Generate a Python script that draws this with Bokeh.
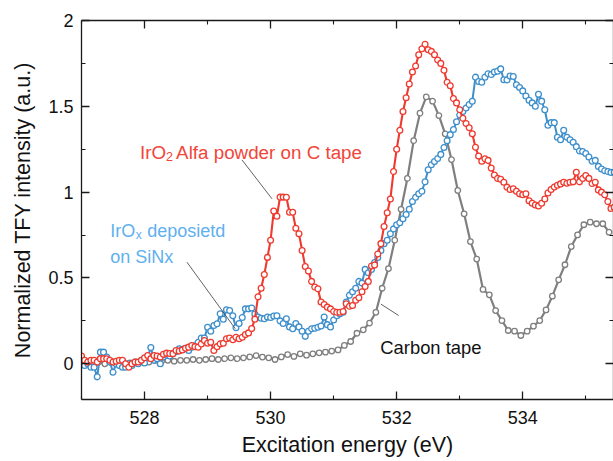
import numpy as np
from bokeh.plotting import figure
from bokeh.models import (Range1d, LinearAxis, FixedTicker, NumeralTickFormatter,
                          Label, ColumnDataSource)
from bokeh.embed import file_html
from bokeh.resources import INLINE

# ---------------- data ----------------
# IrO2 Alfa powder on C tape (red), sampled every 0.05 eV from 527.00 eV
red_start, red_step = 527.00, 0.05
red_tfy = [
    0.045, 0.02, 0.01, 0.02, 0.02, 0.01, 0.03, 0.03, 0.029, 0.02,
    0.01, 0.015, 0.02, 0.02, 0.0, -0.02, 0.0, 0.01, 0.01, 0.02,
    0.035, 0.048, 0.03, 0.048, 0.045, 0.04, 0.055, 0.062, 0.06, 0.058,
    0.077, 0.075, 0.081, 0.09, 0.097, 0.107, 0.1, 0.097, 0.116, 0.136,
    0.12, 0.126, 0.077, 0.1, 0.116, 0.12, 0.146, 0.15, 0.14, 0.155,
    0.146, 0.155, 0.17, 0.18, 0.205, 0.26, 0.39, 0.44, 0.52, 0.62,
    0.72, 0.89, 0.86, 0.971, 0.971, 0.97, 0.883, 0.883, 0.79, 0.757,
    0.66, 0.567, 0.54, 0.48, 0.447, 0.437, 0.36, 0.345, 0.33, 0.32,
    0.305, 0.30, 0.30, 0.305, 0.35, 0.335, 0.34, 0.37, 0.385, 0.42,
    0.45, 0.48, 0.57, 0.575, 0.64, 0.70, 0.80, 0.88, 0.96, 1.12,
    1.25, 1.36, 1.47, 1.55, 1.63, 1.70, 1.735, 1.80, 1.835, 1.862,
    1.83, 1.82, 1.80, 1.77, 1.75, 1.71, 1.64, 1.62, 1.545, 1.52,
    1.48, 1.43, 1.40, 1.375, 1.34, 1.262, 1.21, 1.18, 1.194, 1.185,
    1.14, 1.10, 1.08, 1.075, 1.058, 1.029, 1.015, 1.02, 1.005, 0.99,
    0.985, 0.99, 0.95, 0.935, 0.925, 0.92, 0.935, 0.96, 0.995, 1.015,
    1.03, 1.04, 1.048, 1.058, 1.052, 1.058, 1.06, 1.116, 1.06, 1.08,
    1.097, 1.08, 1.05, 1.058, 1.013, 1.0, 0.985, 0.945, 0.905, 0.912,
]

# IrOx deposited on SiNx (blue), sampled every 0.05 eV from 527.00 eV
blue_start, blue_step = 527.00, 0.05
blue_tfy = [
    0.02, -0.01, 0.0, -0.02, -0.02, -0.076, 0.068, 0.068, 0.039, 0.01,
    -0.049, 0.0, -0.01, -0.02, -0.02, 0.0, -0.01, 0.01, 0.0, 0.02,
    0.005, 0.039, 0.095, 0.02, 0.03, 0.0, 0.04, 0.05, 0.045, 0.06,
    0.07, 0.087, 0.085, 0.09, 0.077, 0.097, 0.105, 0.125, 0.15, 0.15,
    0.213, 0.19, 0.223, 0.233, 0.291, 0.26, 0.315, 0.31, 0.28, 0.21,
    0.235, 0.27, 0.32, 0.32, 0.325, 0.29, 0.272, 0.265, 0.262, 0.272,
    0.27, 0.278, 0.28, 0.25, 0.235, 0.262, 0.215, 0.204, 0.235, 0.215,
    0.19, 0.16, 0.19, 0.204, 0.207, 0.213, 0.22, 0.272, 0.228, 0.215,
    0.255, 0.28, 0.291, 0.30, 0.36, 0.40, 0.42, 0.44, 0.48, 0.47,
    0.55, 0.53, 0.55, 0.59, 0.62, 0.66, 0.70, 0.72, 0.757, 0.786,
    0.81, 0.822, 0.845, 0.87, 0.90, 0.945, 0.97, 0.99, 1.005, 1.06,
    1.13, 1.16, 1.178, 1.196, 1.22, 1.26, 1.30, 1.335, 1.365, 1.41,
    1.45, 1.47, 1.49, 1.51, 1.53, 1.67, 1.645, 1.64, 1.67, 1.69,
    1.685, 1.70, 1.705, 1.718, 1.655, 1.654, 1.676, 1.674, 1.625, 1.61,
    1.59, 1.56, 1.535, 1.52, 1.50, 1.57, 1.53, 1.48, 1.39, 1.405,
    1.405, 1.32, 1.305, 1.36, 1.32, 1.305, 1.29, 1.265, 1.24, 1.237,
    1.225, 1.205, 1.18, 1.185, 1.15, 1.135, 1.125, 1.12, 1.115, 1.116,
]

# Carbon tape (gray), sampled every 0.1 eV from 526.97 eV
gray_start, gray_step = 526.97, 0.10
gray_tfy = [
    0.0, 0.01, 0.005, 0.01, 0.0, 0.01, 0.005, 0.01, 0.005, 0.01,
    0.015, 0.01, 0.02, 0.015, 0.02, 0.015, 0.02, 0.02, 0.025, 0.02,
    0.025, 0.03, 0.025, 0.03, 0.035, 0.03, 0.035, 0.04, 0.048, 0.039,
    0.035, 0.025, 0.04, 0.054, 0.043, 0.058, 0.05, 0.058, 0.064, 0.068,
    0.074, 0.081, 0.107, 0.13, 0.178, 0.198, 0.237, 0.30, 0.44, 0.555,
    0.72, 0.90, 1.08, 1.30, 1.46, 1.555, 1.53, 1.446, 1.34, 1.19,
    1.01, 0.874, 0.712, 0.61, 0.433, 0.402, 0.31, 0.252, 0.194, 0.19,
    0.165, 0.19, 0.219, 0.252, 0.314, 0.394, 0.489, 0.577, 0.683, 0.751,
    0.81, 0.825, 0.816, 0.816, 0.767,
]

x_major_ticks = [528, 530, 532, 534]
x_minor_ticks = [527, 529, 531, 533, 535]
y_major_ticks = [0, 0.5, 1, 1.5, 2]
y_minor_ticks = [0.25, 0.75, 1.25, 1.75]

x_label = "Excitation energy (eV)"
y_label = "Normalized TFY intensity (a.u.)"

# annotation anchors (data coordinates)
red_note = dict(x=527.93, y=1.233)
blue_note = dict(x=527.455, y1=0.776, y2=0.621)
carbon_note = dict(x=531.74, y=0.097)
leader_x0 = [529.546, 528.673, 531.749]
leader_y0 = [1.188, 0.592, 0.348]
leader_x1 = [530.022, 529.440, 532.032]
leader_y1 = [0.961, 0.204, 0.281]

# ---------------- styling ----------------
RED = "#ee3a2f"
BLUE = "#3d8fcc"
GRAY = "#7f7f7f"
RED_TXT = "#f2453a"
BLUE_TXT = "#5fb0ef"
FONT = "Liberation Sans"

def grid(start, step, n):
    return np.round(start + step * np.arange(n), 3)

red_src = ColumnDataSource(dict(x=grid(red_start, red_step, len(red_tfy)), y=red_tfy))
blue_src = ColumnDataSource(dict(x=grid(blue_start, blue_step, len(blue_tfy)), y=blue_tfy))
gray_src = ColumnDataSource(dict(x=grid(gray_start, gray_step, len(gray_tfy)), y=gray_tfy))

p = figure(width=613, height=461,
           x_range=Range1d(527.0, 535.44), y_range=Range1d(-0.208, 2.0),
           output_backend="svg", toolbar_location=None,
           min_border_left=81, min_border_right=0,
           min_border_top=20, min_border_bottom=62)
p.background_fill_color = "white"
p.border_fill_color = "white"
p.outline_line_color = None
p.xgrid.grid_line_color = None
p.ygrid.grid_line_color = None

xt = FixedTicker(ticks=x_major_ticks, minor_ticks=x_minor_ticks)
yt = FixedTicker(ticks=y_major_ticks, minor_ticks=y_minor_ticks)

def style_axis(ax):
    ax.axis_line_color = "#1a1a1a"
    ax.axis_line_width = 1.3
    ax.major_tick_line_color = "#1a1a1a"
    ax.minor_tick_line_color = "#1a1a1a"
    ax.major_tick_line_width = 1.3
    ax.minor_tick_line_width = 1.1
    ax.major_tick_in = 8
    ax.major_tick_out = 0
    ax.minor_tick_in = 4
    ax.minor_tick_out = 0
    ax.major_label_text_font = FONT
    ax.major_label_text_font_size = "18px"
    ax.major_label_text_color = "#111111"
    ax.axis_label_text_font = FONT
    ax.axis_label_text_font_size = "21.5px"
    ax.axis_label_text_font_style = "normal"
    ax.axis_label_text_color = "#111111"

xa = p.xaxis[0]
xa.ticker = xt
style_axis(xa)
xa.axis_label = x_label
xa.major_label_standoff = 11
xa.axis_label_standoff = 6

ya = p.yaxis[0]
ya.ticker = yt
ya.formatter = NumeralTickFormatter(format="0.[0]")
style_axis(ya)
ya.axis_label = y_label
ya.major_label_standoff = 8
ya.axis_label_standoff = 10

top = LinearAxis(ticker=xt)
style_axis(top)
top.major_label_overrides = {t: "" for t in x_major_ticks}
top.major_label_standoff = 0
p.add_layout(top, "above")

right = LinearAxis(ticker=yt)
style_axis(right)
right.major_label_overrides = {t: "" for t in y_major_ticks}
right.major_label_standoff = 0
p.add_layout(right, "right")

# ---------------- series ----------------
for src, col, lw, ms in [(gray_src, GRAY, 2.2, 5.5),
                         (blue_src, BLUE, 2.0, 5.8),
                         (red_src, RED, 2.1, 5.8)]:
    p.line("x", "y", source=src, line_color=col, line_width=lw)
    p.scatter("x", "y", source=src, marker="circle", size=ms,
              fill_color="white", line_color=col, line_width=1.3)

# leader lines
p.segment(x0=leader_x0, y0=leader_y0, x1=leader_x1, y1=leader_y1,
          line_color="#3a3a3a", line_width=0.8)

# ---------------- annotations ----------------
def lab(x, y, text, color, size="18px", dx=0, dy=0, align="left"):
    p.add_layout(Label(x=x, y=y, x_offset=dx, y_offset=dy, text=text,
                       text_font=FONT, text_font_size=size, text_color=color,
                       text_baseline="alphabetic", text_align=align))

lab(red_note["x"], red_note["y"], "IrO", RED_TXT, size="18.8px")
lab(red_note["x"], red_note["y"], "2", RED_TXT, size="12.5px", dx=26, dy=-4)
lab(red_note["x"], red_note["y"], "Alfa powder on C tape", RED_TXT, size="18.8px", dx=36)

lab(blue_note["x"], blue_note["y1"], "IrO", BLUE_TXT)
lab(blue_note["x"], blue_note["y1"], "x", BLUE_TXT, size="12px", dx=25.5, dy=-4)
lab(blue_note["x"], blue_note["y1"], "deposietd", BLUE_TXT, dx=37)
lab(blue_note["x"], blue_note["y2"], "on SiNx", BLUE_TXT)

lab(carbon_note["x"], carbon_note["y"], "Carbon tape", "#111111", size="18.4px")

open("out.html", "w").write(file_html(p, INLINE))
